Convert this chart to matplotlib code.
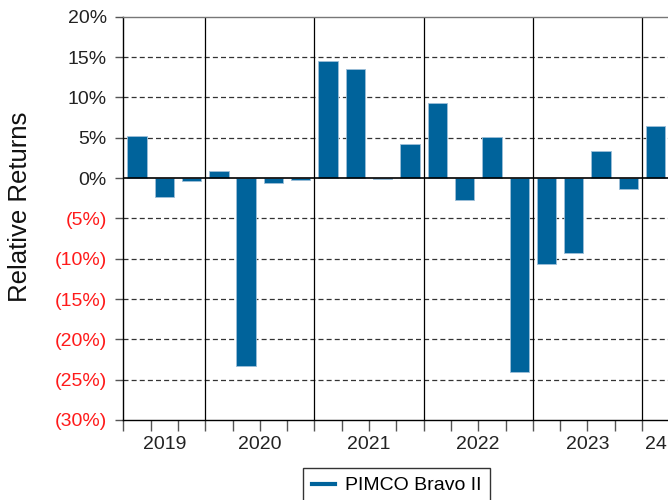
import matplotlib
matplotlib.use("Agg")
import matplotlib.pyplot as plt
from matplotlib.lines import Line2D
import matplotlib.transforms as mtransforms
import numpy as np

plt.rcParams['font.family'] = ['Liberation Sans', 'DejaVu Sans']

quarters = ["2019Q2", "2019Q3", "2019Q4",
            "2020Q1", "2020Q2", "2020Q3", "2020Q4",
            "2021Q1", "2021Q2", "2021Q3", "2021Q4",
            "2022Q1", "2022Q2", "2022Q3", "2022Q4",
            "2023Q1", "2023Q2", "2023Q3", "2023Q4",
            "2024Q1"]
returns = [5.2, -2.3, -0.35,
           0.9, -23.3, -0.65, -0.3,
           14.5, 13.5, -0.1, 4.2,
           9.3, -2.7, 5.05, -24.1,
           -10.6, -9.3, 3.4, -1.3,
           6.4]
year_labels = ["2019", "2020", "2021", "2022", "2023", "24"]
year_label_pos = [1, 4.5, 8.5, 12.5, 16.5, 19.0]
year_dividers = [2.5, 6.5, 10.5, 14.5, 18.5]
series_name = "PIMCO Bravo II"

bar_color = '#00639B'

fig = plt.figure(figsize=(6.68, 5.0), dpi=100)
ax = fig.add_axes([0.1846, 0.16, 1.0 - 0.1846, 0.9666 - 0.16])

x = np.arange(len(returns))
ax.bar(x, returns, width=0.71, color=bar_color, edgecolor='#9DBFD8', linewidth=0.6, zorder=3)

ax.set_xlim(-0.5, 19.45)
ax.set_ylim(-30, 20)

# horizontal dashed grid
for y in [15, 10, 5, -5, -10, -15, -20, -25]:
    ax.axhline(y, color='#333333', linestyle=(0, (4, 2.5)), linewidth=0.9, zorder=1)
ax.axhline(0, color='black', linewidth=1.2, zorder=4)

# year dividers
for d in year_dividers:
    ax.axvline(d, color='black', linewidth=0.9, zorder=2)

# spines
ax.spines['right'].set_visible(False)
ax.spines['top'].set_color('#777777')
ax.spines['left'].set_color('black')
ax.spines['bottom'].set_color('black')
for s in ['top', 'left', 'bottom']:
    ax.spines[s].set_linewidth(1.0)

# y ticks
yt = list(range(-30, 21, 5))
ax.set_yticks(yt)
labels = []
for v in yt:
    labels.append(f"{v}%" if v >= 0 else f"({-v}%)")
ax.set_yticklabels(labels, fontsize=14)
for lab, v in zip(ax.get_yticklabels(), yt):
    lab.set_color('#FF1A1A' if v < 0 else '#222222')
ax.tick_params(axis='y', direction='out', length=6, width=1, color='#555555', pad=6)

# x ticks: boundaries (no label)
ax.set_xticks(np.arange(-0.5, 19.5, 1.0))
ax.set_xticklabels([])
ax.tick_params(axis='x', which='major', direction='out', length=8, width=1, color='#555555')

# year labels
trans = mtransforms.blended_transform_factory(ax.transData, ax.transAxes)
for pos, lab in zip(year_label_pos, year_labels):
    ax.text(pos, -0.04, lab, transform=trans, ha='center', va='top',
            fontsize=14, color='#222222', clip_on=False)

ax.set_ylabel("Relative Returns", fontsize=18.5, color='#111111')
ax.yaxis.set_label_coords(-0.168, 0.529)

handle = Line2D([0], [0], color=bar_color, linewidth=3)
leg = fig.legend([handle], [series_name], loc='upper center',
                 bbox_to_anchor=(0.594, 0.064), frameon=True, fancybox=False,
                 edgecolor='black', fontsize=14, handlelength=1.2,
                 borderpad=0.45, handletextpad=0.5, borderaxespad=0)
leg.get_frame().set_linewidth(1.0)

fig.savefig("out.png", dpi=100)
